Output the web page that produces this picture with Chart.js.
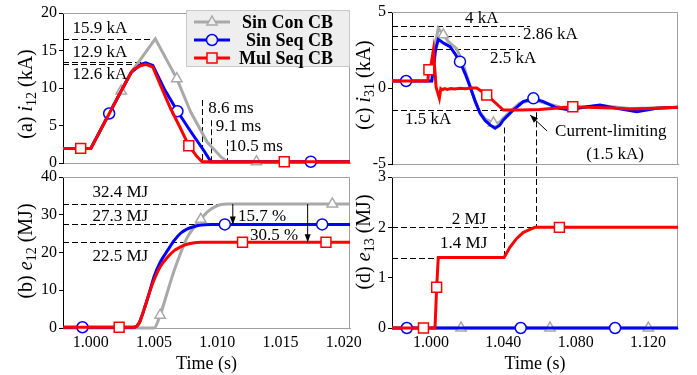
<!DOCTYPE html>
<html>
<head>
<meta charset="utf-8">
<script src="https://cdn.jsdelivr.net/npm/chart.js@4.4.0/dist/chart.umd.min.js"></script>
<style>
  body { margin: 0; background: #fff; }
  #wrap { position: relative; width: 697px; height: 375px; }
  #wrap canvas { position: absolute; left: 0; top: 0; }
</style>
</head>
<body>
<div id="wrap">
  <canvas id="pa" width="697" height="375"></canvas>
  <canvas id="pb" width="697" height="375"></canvas>
  <canvas id="pc" width="697" height="375"></canvas>
  <canvas id="pd" width="697" height="375"></canvas>
</div>
<script>
const W = 697, H = 375;
const FONT = '"Liberation Serif", "Times New Roman", serif';
const GRAY = "#a9a9a9", BLUE = "#0000ff", RED = "#ff0000";

// series names (legend order)
const names = ["Sin Con CB", "Sin Seq CB", "Mul Seq CB"];

// ---- (a) i12 (kA) ----
const aConT = [0.9978, 1.0000, 1.0024, 1.0032, 1.0051, 1.0068, 1.0079, 1.0092, 1.0103, 1.0108, 1.0131, 1.0205];
const aConV = [1.95, 1.95, 9.6, 12.1, 16.56, 11.25, 6.8, 2.8, 0.8, 0.17, 0.17, 0.17];
const aConMk = [1.0024, 1.0068, 1.0131];
const aSeqT = [0.9978, 1.0000, 1.00145, 1.0024, 1.0032, 1.0040, 1.00435, 1.0049, 1.0058, 1.00685, 1.0079, 1.0090, 1.0095, 1.0174, 1.0205];
const aSeqV = [1.95, 1.95, 6.6, 9.6, 12.1, 13.2, 13.37, 13.0, 9.9, 6.9, 4.2, 1.5, 0.17, 0.17, 0.17];
const aSeqMk = [1.00145, 1.00685, 1.0174];
const aMulT = [0.9978, 0.9992, 1.0000, 1.0024, 1.0032, 1.0034, 1.0040, 1.00435, 1.0049, 1.0055, 1.0063, 1.0071, 1.00775, 1.0084, 1.0088, 1.0153, 1.0205];
const aMulV = [1.95, 1.95, 1.95, 9.6, 12.1, 12.5, 13.0, 13.15, 12.8, 10.4, 7.3, 4.6, 2.3, 0.85, 0.17, 0.17, 0.17];
const aMulMk = [0.9992, 1.00775, 1.0153];

// ---- (b) e12 (MJ) ----
const bConT = [0.9978, 1.0050, 1.00548, 1.0061, 1.0066, 1.0071, 1.0076, 1.0082, 1.0087, 1.0092, 1.0098, 1.0103, 1.0108, 1.0191, 1.0205];
const bConV = [0, 0, 3.4, 10, 15.3, 19.8, 23.8, 26.8, 28.8, 30.7, 32.1, 32.7, 32.85, 32.85, 32.85];
const bConMk = [1.00548, 1.0087, 1.0191];
const bSeqT = [0.9978, 0.99934, 1.0034, 1.0038, 1.0042, 1.0046, 1.0050, 1.0055, 1.0061, 1.0066, 1.0071, 1.0076, 1.0082, 1.0087, 1.0095, 1.0106, 1.0183, 1.0205];
const bSeqV = [0.2, 0.2, 0.2, 1.2, 4.8, 9.0, 13.6, 17.5, 20.7, 23.2, 25.1, 26.2, 26.9, 27.3, 27.45, 27.45, 27.45, 27.45];
const bSeqMk = [0.99934, 1.0106, 1.0183];
const bMulT = [0.9978, 1.00224, 1.0034, 1.0038, 1.0042, 1.0046, 1.0050, 1.0055, 1.0061, 1.0066, 1.0071, 1.0076, 1.0082, 1.0087, 1.0120, 1.0186, 1.0205];
const bMulV = [0.2, 0.2, 0.2, 1.2, 4.8, 9.0, 12.7, 16.3, 18.9, 20.5, 21.5, 22.2, 22.6, 22.7, 22.7, 22.7, 22.7];
const bMulMk = [1.00224, 1.0120, 1.0186];

// ---- (c) i31 (kA) ----
const cConT = [0.9784, 1.0004, 1.0025, 1.0040, 1.0068, 1.0096, 1.0140, 1.0170, 1.0195, 1.0216, 1.0245, 1.0271, 1.0300, 1.0345, 1.0375, 1.0400, 1.0450, 1.0490, 1.0566, 1.0630, 1.0713, 1.0800, 1.0935, 1.1100, 1.1366];
const cConV = [0.46, 0.46, 3.0, 3.93, 3.5, 3.05, 2.6, 1.84, 0.9, 0.1, -0.9, -1.6, -2.05, -2.3, -2.3, -1.97, -1.4, -0.99, -0.79, -0.99, -1.25, -1.32, -1.15, -1.35, -1.28];
const cConMk = [1.0068, 1.0345];
const cSeqT = [0.9784, 0.9862, 1.0004, 1.0025, 1.0040, 1.0070, 1.0105, 1.0130, 1.0160, 1.0190, 1.0216, 1.0245, 1.0271, 1.0300, 1.0326, 1.0354, 1.0380, 1.0400, 1.0455, 1.0510, 1.0566, 1.0621, 1.0695, 1.0769, 1.0842, 1.0935, 1.1027, 1.1138, 1.1248, 1.1366];
const cSeqV = [0.46, 0.46, 0.46, 2.5, 3.2, 2.95, 2.72, 2.3, 1.73, 0.9, 0.09, -0.9, -1.67, -2.15, -2.43, -2.65, -2.45, -2.1, -1.45, -0.9, -0.68, -0.9, -1.3, -1.45, -1.27, -1.12, -1.34, -1.56, -1.34, -1.27];
const cSeqMk = [0.9862, 1.0160, 1.0566];
const cMulT = [0.9784, 0.9982, 0.9988, 0.9998, 1.0013, 1.0028, 1.0046, 1.0054, 1.0062, 1.0075, 1.0090, 1.0110, 1.0130, 1.0160, 1.0190, 1.0220, 1.0253, 1.0308, 1.0400, 1.0500, 1.0600, 1.0700, 1.0784, 1.0900, 1.1000, 1.1100, 1.1200, 1.1366];
const cMulV = [0.46, 0.46, 1.2, 1.4, 2.5, 0.05, -0.68, -0.05, -0.12, -0.04, -0.09, -0.03, -0.07, -0.02, -0.05, 0.0, 0.0, -0.46, -1.45, -1.45, -1.42, -1.32, -1.23, -1.28, -1.32, -1.38, -1.35, -1.27];
const cMulMk = [0.9988, 1.0308, 1.0784];

// ---- (d) e13 (MJ) ----
const dConT = [0.9784, 1.0166, 1.0658, 1.1202, 1.1366];
const dConV = [0, 0, 0, 0, 0];
const dConMk = [1.0166, 1.0658, 1.1202];
const dSeqT = [0.9784, 0.9866, 1.0496, 1.1018, 1.1366];
const dSeqV = [0, 0, 0, 0, 0];
const dSeqMk = [0.9866, 1.0496, 1.1018];
const dMulT = [0.9784, 0.9958, 1.0022, 1.0031, 1.0040, 1.0404, 1.0437, 1.0474, 1.0511, 1.0548, 1.0575, 1.0710, 1.1366];
const dMulV = [0, 0, 0, 0.81, 1.4, 1.4, 1.61, 1.78, 1.9, 1.96, 2.0, 2.0, 2.0];
const dMulMk = [0.9958, 1.0031, 1.0710];

// axis ranges and ticks
const leftRange = [0.9978, 1.0205];
const rightRange = [0.9784, 1.1366];
const leftTicks = [1.000, 1.005, 1.010, 1.015, 1.020];
const rightTicks = [1.000, 1.040, 1.080, 1.120];
const aYTicks = [0, 5, 10, 15, 20];
const bYTicks = [0, 10, 20, 30, 40];
const cYTicks = [-5, 0, 5];
const dYTicks = [0, 1, 2, 3];

Chart.defaults.font.family = FONT;
Chart.defaults.color = "#000";

function series(label, t, v, marks, color, style, radius, order, smooth) {
    return {
        label: label,
        order: order,
        data: t.map((x, i) => ({ x: x, y: v[i] })),
        borderColor: color,
        borderWidth: 3,
        clip: false,
        pointStyle: style,
        pointRadius: (ctx) => (ctx.raw && marks.includes(ctx.raw.x) ? radius : 0),
        pointHoverRadius: 0,
        pointBorderColor: color,
        pointBackgroundColor: "#fff",
        pointBorderWidth: 1.5,
        tension: 0,
        cubicInterpolationMode: smooth ? "monotone" : "default",
    };
}

function trio(con, seq, mul, smooth) {
    return [
        series(names[0], con[0], con[1], con[2], GRAY, "triangle", 6, 2, smooth),
        series(names[1], seq[0], seq[1], seq[2], BLUE, "circle", 5.5, 1, smooth),
        series(names[2], mul[0], mul[1], mul[2], RED, "rect", 7, 0, smooth),
    ];
}

// draw a y title with italic symbol and subscript
function drawYTitle(ctx, cx, cy, parts) {
    const big = "20px " + FONT, ital = "italic 20px " + FONT, small = "14px " + FONT;
    const fonts = [big, ital, small, big];
    let total = 0;
    const widths = parts.map((p, i) => {
        ctx.font = fonts[i];
        const w = ctx.measureText(p).width;
        total += w;
        return w;
    });
    ctx.save();
    ctx.translate(cx, cy);
    ctx.rotate(-Math.PI / 2);
    ctx.fillStyle = "#000";
    ctx.textAlign = "left";
    ctx.textBaseline = "middle";
    let x = -total / 2;
    parts.forEach((p, i) => {
        ctx.font = fonts[i];
        ctx.fillText(p, x, i === 2 ? 5 : 0);
        x += widths[i];
    });
    ctx.restore();
}

function arrowHead(ctx, x1, y1, x2, y2) {
    const ang = Math.atan2(y2 - y1, x2 - x1);
    ctx.beginPath();
    ctx.moveTo(x2, y2);
    ctx.lineTo(x2 - 8 * Math.cos(ang) + 3 * Math.sin(ang), y2 - 8 * Math.sin(ang) - 3 * Math.cos(ang));
    ctx.lineTo(x2 - 8 * Math.cos(ang) - 3 * Math.sin(ang), y2 - 8 * Math.sin(ang) + 3 * Math.cos(ang));
    ctx.closePath();
    ctx.fill();
}

function drawLegend(ctx, chart) {
    const byName = {};
    chart.data.datasets.forEach((d) => (byName[d.label] = d));
    ctx.save();
    ctx.fillStyle = "#eeeeee";
    ctx.fillRect(186, 10, 164, 57);
    ctx.strokeStyle = "#c8c8c8";
    ctx.lineWidth = 1;
    ctx.strokeRect(186.5, 10.5, 163, 56);
    names.forEach((n, i) => {
        const d = byName[n];
        const y = 22 + i * 18;
        ctx.strokeStyle = d.borderColor;
        ctx.lineWidth = 3;
        ctx.beginPath();
        ctx.moveTo(194, y);
        ctx.lineTo(230, y);
        ctx.stroke();
        ctx.fillStyle = "#eeeeee";
        ctx.lineWidth = 1.5;
        ctx.beginPath();
        if (d.pointStyle === "circle") {
            ctx.arc(212, y, 5.5, 0, Math.PI * 2);
        } else if (d.pointStyle === "rect") {
            ctx.rect(207, y - 5, 10, 10);
        } else {
            ctx.moveTo(212, y - 6);
            ctx.lineTo(217, y + 3);
            ctx.lineTo(207, y + 3);
            ctx.closePath();
        }
        ctx.fill();
        ctx.stroke();
        ctx.fillStyle = "#000";
        ctx.font = "bold 18px " + FONT;
        ctx.textAlign = "right";
        ctx.textBaseline = "middle";
        ctx.fillText(n, 333, y + 1);
    });
    ctx.restore();
}

// dashed guides, labels, arrows, frame and y title
function decor(cfg) {
    return {
        id: "decor",
        beforeDatasetsDraw(chart) {
            const { ctx, chartArea: a, scales: { x, y } } = chart;
            const py = (v) => (v === "below" ? a.bottom + 7 : v === "above" ? a.top - 7 : y.getPixelForValue(v));
            ctx.save();
            ctx.strokeStyle = "#a0a0a0";
            ctx.lineWidth = 1;
            ctx.beginPath();
            ctx.moveTo(a.left, a.top + 0.5);
            ctx.lineTo(a.right - 0.5, a.top + 0.5);
            ctx.lineTo(a.right - 0.5, a.bottom);
            ctx.stroke();
            ctx.strokeStyle = "#000";
            ctx.setLineDash([6, 3]);
            (cfg.hLines || []).forEach((l) => {
                const yy = Math.round(y.getPixelForValue(l.y)) + 0.5;
                ctx.beginPath();
                ctx.moveTo(x.getPixelForValue(l.x1), yy);
                ctx.lineTo(x.getPixelForValue(l.x2), yy);
                ctx.stroke();
            });
            (cfg.vLines || []).forEach((l) => {
                const xx = Math.round(x.getPixelForValue(l.x)) + 0.5;
                ctx.beginPath();
                ctx.moveTo(xx, py(l.y1));
                ctx.lineTo(xx, py(l.y2));
                ctx.stroke();
            });
            ctx.restore();
        },
        afterDatasetsDraw(chart) {
            const { ctx, scales: { x, y } } = chart;
            ctx.save();
            ctx.fillStyle = "#000";
            ctx.strokeStyle = "#000";
            ctx.lineWidth = 1;
            (cfg.arrows || []).forEach((r) => {
                const x1 = x.getPixelForValue(r.x1), y1 = y.getPixelForValue(r.y1);
                const x2 = x.getPixelForValue(r.x2), y2 = y.getPixelForValue(r.y2);
                ctx.beginPath();
                ctx.moveTo(x1, y1);
                ctx.lineTo(x2, y2);
                ctx.stroke();
                arrowHead(ctx, x1, y1, x2, y2);
            });
            ctx.font = "17px " + FONT;
            ctx.textBaseline = "middle";
            (cfg.texts || []).forEach((t) => {
                ctx.textAlign = t.align || "left";
                ctx.fillText(t.t, x.getPixelForValue(t.x), y.getPixelForValue(t.y));
            });
            ctx.restore();
        },
        afterDraw(chart) {
            drawYTitle(chart.ctx, cfg.title.cx, cfg.title.cy, cfg.title.parts);
            if (cfg.legend) drawLegend(chart.ctx, chart);
        },
    };
}

function panel(id, area, xr, xTicks, yr, yTicks, showX, datasets, cfg) {
    const xH = showX ? 47 : 1;
    return new Chart(document.getElementById(id), {
        type: "line",
        data: { datasets: datasets },
        options: {
            responsive: false,
            animation: false,
            devicePixelRatio: 1,
            layout: { padding: { left: 0, top: area.top, right: W - area.right, bottom: H - area.bottom - xH } },
            plugins: { legend: { display: false }, tooltip: { enabled: false } },
            scales: {
                x: {
                    type: "linear",
                    min: xr[0],
                    max: xr[1],
                    afterBuildTicks: (s) => { s.ticks = xTicks.map((v) => ({ value: v })); },
                    afterFit: (s) => { s.height = xH; },
                    border: { color: "#a0a0a0", width: 1 },
                    grid: { display: false, drawTicks: false, tickLength: 0 },
                    ticks: {
                        display: showX,
                        autoSkip: false,
                        maxRotation: 0,
                        padding: 5,
                        font: { size: 16 },
                        callback: (v) => Number(v).toFixed(3),
                    },
                    title: { display: showX, text: "Time (s)", font: { size: 18 }, padding: { top: 0, bottom: 0 } },
                },
                y: {
                    type: "linear",
                    min: yr[0],
                    max: yr[1],
                    afterBuildTicks: (s) => { s.ticks = yTicks.map((v) => ({ value: v })); },
                    afterFit: (s) => { s.width = area.left; },
                    border: { color: "#000", width: 1 },
                    grid: { drawOnChartArea: false, drawTicks: true, tickLength: 4, color: "#000" },
                    ticks: { padding: 2, font: { size: 16 } },
                },
            },
        },
        plugins: [decor(cfg)],
    });
}

// (a)
panel("pa", { left: 63, top: 13, right: 350, bottom: 163 }, leftRange, leftTicks, [0, 20], aYTicks, false,
    trio([aConT, aConV, aConMk], [aSeqT, aSeqV, aSeqMk], [aMulT, aMulV, aMulMk], false), {
        legend: true,
        title: { cx: 27, cy: 94, parts: ["(a) ", "i", "12", " (kA)"] },
        hLines: [
            { x1: leftRange[0], x2: 1.00506, y: 16.56 },
            { x1: leftRange[0], x2: 1.0040, y: 13.45 },
            { x1: leftRange[0], x2: 1.0040, y: 13.15 },
        ],
        vLines: [
            { x: 1.0088, y1: 8.4, y2: 0 },
            { x: 1.0095, y1: 5.7, y2: 0 },
            { x: 1.0108, y1: 3.05, y2: 0 },
        ],
        texts: [
            { t: "15.9 kA", x: 0.99855, y: 17.9 },
            { t: "12.9 kA", x: 0.99855, y: 14.75 },
            { t: "12.6 kA", x: 0.99855, y: 11.8 },
            { t: "8.6 ms", x: 1.00929, y: 7.3 },
            { t: "9.1 ms", x: 1.00988, y: 4.8 },
            { t: "10.5 ms", x: 1.01093, y: 2.26 },
        ],
    });

// (b)
panel("pb", { left: 63, top: 177, right: 350, bottom: 328 }, leftRange, leftTicks, [0, 40], bYTicks, true,
    trio([bConT, bConV, bConMk], [bSeqT, bSeqV, bSeqMk], [bMulT, bMulV, bMulMk], true), {
        title: { cx: 27, cy: 251, parts: ["(b) ", "e", "12", " (MJ)"] },
        hLines: [
            { x1: leftRange[0], x2: 1.0113, y: 32.85 },
            { x1: leftRange[0], x2: 1.0095, y: 27.45 },
            { x1: leftRange[0], x2: 1.0087, y: 22.7 },
        ],
        arrows: [
            { x1: 1.01123, y1: 32.85, x2: 1.01123, y2: 27.45 },
            { x1: 1.01715, y1: 32.85, x2: 1.01715, y2: 22.7 },
        ],
        texts: [
            { t: "32.4 MJ", x: 1.00013, y: 35.8 },
            { t: "27.3 MJ", x: 1.00013, y: 29.4 },
            { t: "22.5 MJ", x: 1.00013, y: 18.8 },
            { t: "15.7 %", x: 1.01165, y: 29.4 },
            { t: "30.5 %", x: 1.0126, y: 24.6 },
        ],
    });

// (c)
panel("pc", { left: 392, top: 12, right: 678, bottom: 164 }, rightRange, rightTicks, [-5, 5], cYTicks, false,
    trio([cConT, cConV, cConMk], [cSeqT, cSeqV, cSeqMk], [cMulT, cMulV, cMulMk], false), {
        title: { cx: 365, cy: 85, parts: ["(c) ", "i", "31", " (kA)"] },
        hLines: [
            { x1: rightRange[0], x2: 1.0548, y: 4.1 },
            { x1: rightRange[0], x2: 1.0492, y: 3.44 },
            { x1: rightRange[0], x2: 1.0492, y: 2.54 },
            { x1: rightRange[0], x2: 1.0531, y: -1.45 },
        ],
        vLines: [
            { x: 1.0406, y1: -2.6, y2: "below" },
            { x: 1.0579, y1: -1.6, y2: "below" },
        ],
        arrows: [{ x1: 1.0642, y1: -2.83, x2: 1.0548, y2: -1.78 }],
        texts: [
            { t: "4 kA", x: 1.0188, y: 4.57 },
            { t: "2.86 kA", x: 1.0509, y: 3.49 },
            { t: "2.5 kA", x: 1.0326, y: 1.97 },
            { t: "1.5 kA", x: 0.9856, y: -2.1 },
            { t: "Current-limiting", x: 1.0686, y: -2.88 },
            { t: "(1.5 kA)", x: 1.1018, y: -4.4, align: "center" },
        ],
    });

// (d)
panel("pd", { left: 392, top: 177, right: 678, bottom: 328 }, rightRange, rightTicks, [0, 3], dYTicks, true,
    trio([dConT, dConV, dConMk], [dSeqT, dSeqV, dSeqMk], [dMulT, dMulV, dMulMk], false), {
        title: { cx: 365, cy: 242, parts: ["(d) ", "e", "13", " (MJ)"] },
        hLines: [
            { x1: rightRange[0], x2: 1.0575, y: 2.0 },
            { x1: rightRange[0], x2: 1.0028, y: 1.4 },
        ],
        vLines: [
            { x: 1.0406, y1: "above", y2: 1.4 },
            { x: 1.0579, y1: "above", y2: 2.0 },
        ],
        texts: [
            { t: "2 MJ", x: 1.01145, y: 2.15 },
            { t: "1.4 MJ", x: 1.005, y: 1.68 },
        ],
    });
</script>
</body>
</html>
